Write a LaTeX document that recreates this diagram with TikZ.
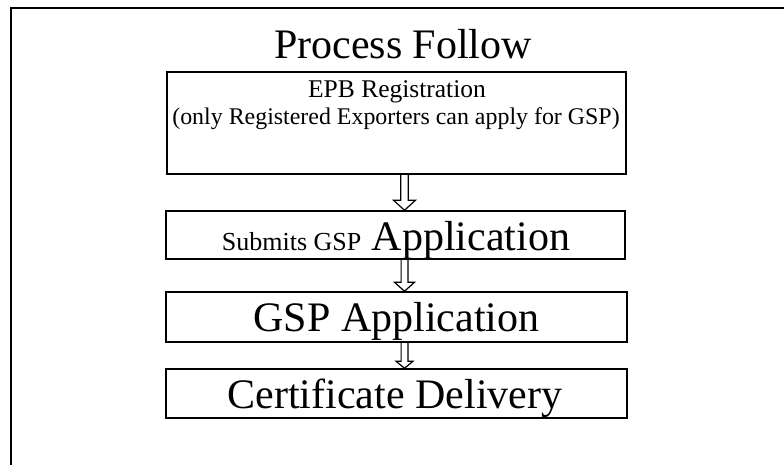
\documentclass[tikz,border=0pt]{standalone}
\usepackage{fontspec}
\setmainfont{Liberation Serif}
\usetikzlibrary{calc}
\tikzset{
  box/.style={draw=black, line width=1.5pt, inner sep=0pt, minimum width=459pt},
  txt/.style={anchor=base, inner sep=0pt, text=black},
  big/.style={txt, font=\fontsize{42}{48}\selectfont},
  small/.style={txt, font=\fontsize{23.9}{28}\selectfont},
  frameline/.style={line width=1.6pt, draw=black},
  arrowline/.style={line width=1.2pt, draw=black, line join=miter},
}
\newcommand\flowarrow[5]{%
  \draw[arrowline] let \p1=(#1.south), \p2=(#2.north), \p3=(ax) in
    (\x3-#3,\y1) -- (\x3-#3,\y2+#5) -- (\x3-#4,\y2+#5) -- (\x3,\y2)
    -- (\x3+#4,\y2+#5) -- (\x3+#3,\y2+#5) -- (\x3+#3,\y1);
}
\begin{document}
\begin{tikzpicture}[x=1pt, y=-1pt]
  \useasboundingbox (0,0) rectangle (784,465);
  % outer frame (clipped on right and bottom)
  \draw[frameline] (11,466) -- (11,8) -- (785,8);
  % title
  \node[txt, font=\fontsize{42}{48}\selectfont] (title) at (403,59) {Process Follow};
  % boxes
  \node[box, minimum height=102pt] (b1) at (396.5,123) {};
  \node[box, minimum height=48pt] (b2) at (395.5,235) {};
  \node[box, minimum width=461pt, minimum height=50pt] (b3) at (396.5,317) {};
  \node[box, minimum width=461pt, minimum height=49pt] (b4) at (396.5,393.5) {};
  % texts
  \node[txt, font=\fontsize{25.5}{30}\selectfont] (t1a) at (397,97.3) {EPB Registration};
  \node[small] (t1b) at (396,125) {(only Registered Exporters can apply for GSP)};
  \node[txt] (t2) at (396,250) {{\fontsize{26}{30}\selectfont Submits GSP}{\fontsize{42}{48}\selectfont{} Application}};
  \node[big] (t3) at (396.5,331.7) {GSP Application};
  \node[big] (t4) at (395,408.3) {Certificate Delivery};
  % arrows
  \coordinate (ax) at (404.5,0);
  \flowarrow{b1}{b2}{3.7pt}{11pt}{10pt}
  \flowarrow{b2}{b3}{3.4pt}{10pt}{9pt}
  \flowarrow{b3}{b4}{3.4pt}{8.5pt}{7pt}
\end{tikzpicture}
\end{document}
